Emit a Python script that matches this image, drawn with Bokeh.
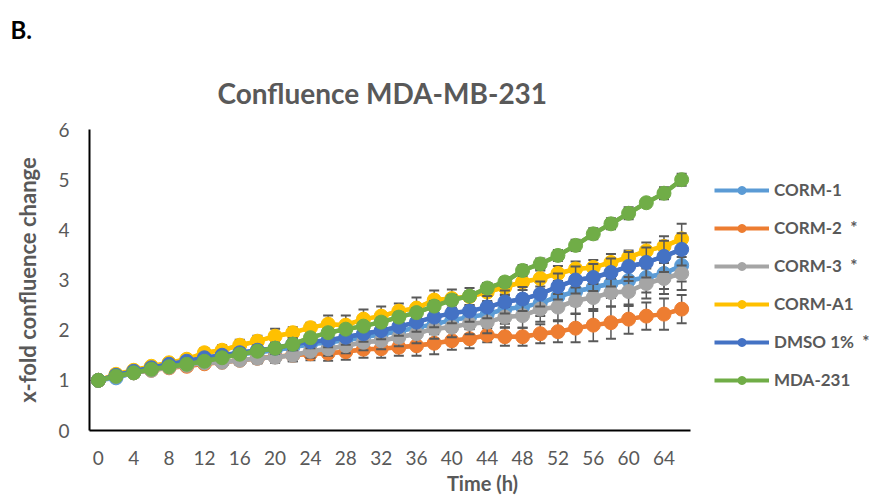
from bokeh.plotting import figure
from bokeh.models import (Range1d, FixedTicker, Title, Legend, LegendItem, ColumnDataSource)
from bokeh.embed import file_html
from bokeh.resources import INLINE

# ---------------- data ----------------
time_h = [0, 2, 4, 6, 8, 10, 12, 14, 16, 18, 20, 22, 24, 26, 28, 30, 32,
          34, 36, 38, 40, 42, 44, 46, 48, 50, 52, 54, 56, 58, 60, 62, 64, 66]
x_ticks = [0, 4, 8, 12, 16, 20, 24, 28, 32, 36, 40, 44, 48, 52, 56, 60, 64]
y_ticks = [0, 1, 2, 3, 4, 5, 6]

series_names = ["CORM-1", "CORM-2", "CORM-3", "CORM-A1", "DMSO 1%", "MDA-231"]
legend_labels = ["CORM-1", "CORM-2  *", "CORM-3  *", "CORM-A1", "DMSO 1%  *", "MDA-231"]
colors = ["#5B9BD5", "#ED7D31", "#A5A5A5", "#FFC000", "#4472C4", "#70AD47"]

corm1 = [1.00, 1.05, 1.15, 1.22, 1.30, 1.36, 1.42, 1.47, 1.52, 1.56, 1.60, 1.66, 1.72, 1.76,
         1.80, 1.86, 1.92, 1.98, 2.05, 2.12, 2.20, 2.26, 2.32, 2.42, 2.46, 2.54, 2.67, 2.77,
         2.85, 2.93, 2.99, 3.05, 3.13, 3.29]
corm2 = [1.00, 1.10, 1.15, 1.20, 1.25, 1.28, 1.33, 1.36, 1.40, 1.44, 1.47, 1.50, 1.53, 1.54,
         1.57, 1.62, 1.63, 1.66, 1.69, 1.74, 1.79, 1.83, 1.90, 1.87, 1.87, 1.93, 1.97, 2.04,
         2.10, 2.15, 2.22, 2.28, 2.32, 2.42]
corm3 = [1.00, 1.08, 1.15, 1.20, 1.26, 1.30, 1.35, 1.36, 1.40, 1.44, 1.46, 1.50, 1.58, 1.63,
         1.69, 1.76, 1.79, 1.86, 1.93, 2.03, 2.06, 2.13, 2.16, 2.26, 2.29, 2.42, 2.46, 2.59,
         2.65, 2.75, 2.77, 2.93, 3.03, 3.13]
corma1 = [1.00, 1.12, 1.20, 1.28, 1.35, 1.42, 1.55, 1.60, 1.70, 1.78, 1.88, 1.95, 2.05, 2.12,
          2.10, 2.22, 2.28, 2.38, 2.44, 2.60, 2.63, 2.67, 2.76, 2.86, 2.96, 3.03, 3.13, 3.22,
          3.25, 3.35, 3.45, 3.58, 3.67, 3.82]
dmso = [1.00, 1.10, 1.18, 1.25, 1.32, 1.38, 1.45, 1.50, 1.55, 1.60, 1.64, 1.72, 1.77, 1.80,
        1.86, 1.93, 1.99, 2.07, 2.16, 2.26, 2.34, 2.38, 2.46, 2.56, 2.62, 2.72, 2.87, 3.00,
        3.05, 3.15, 3.27, 3.35, 3.47, 3.61]
mda231 = [1.00, 1.08, 1.15, 1.22, 1.27, 1.32, 1.38, 1.45, 1.52, 1.58, 1.64, 1.72, 1.85, 1.95,
          2.02, 2.08, 2.16, 2.26, 2.35, 2.48, 2.60, 2.68, 2.84, 2.96, 3.19, 3.32, 3.49, 3.69,
          3.92, 4.12, 4.33, 4.54, 4.73, 5.00]

err_corm1 = [0.00, 0.02, 0.03, 0.04, 0.05, 0.06, 0.07, 0.08, 0.09, 0.10, 0.11, 0.12, 0.13, 0.14,
             0.15, 0.16, 0.17, 0.18, 0.19, 0.20, 0.22, 0.23, 0.24, 0.29, 0.25, 0.26, 0.27, 0.28,
             0.28, 0.29, 0.30, 0.30, 0.31, 0.32]
err_corm2 = [0.00, 0.02, 0.03, 0.04, 0.05, 0.06, 0.07, 0.08, 0.09, 0.10, 0.11, 0.12, 0.13, 0.15,
             0.16, 0.17, 0.18, 0.17, 0.20, 0.22, 0.18, 0.19, 0.14, 0.18, 0.18, 0.19, 0.21, 0.28,
             0.32, 0.32, 0.29, 0.27, 0.31, 0.28]
err_corm3 = [0.00, 0.02, 0.03, 0.04, 0.05, 0.06, 0.07, 0.08, 0.09, 0.10, 0.11, 0.12, 0.13, 0.14,
             0.15, 0.16, 0.17, 0.18, 0.19, 0.20, 0.20, 0.21, 0.22, 0.20, 0.24, 0.25, 0.26, 0.26,
             0.27, 0.28, 0.29, 0.30, 0.31, 0.33]
err_corma1 = [0.00, 0.02, 0.03, 0.05, 0.06, 0.08, 0.09, 0.10, 0.11, 0.11, 0.15, 0.11, 0.10, 0.17,
              0.19, 0.19, 0.19, 0.15, 0.21, 0.19, 0.18, 0.17, 0.18, 0.17, 0.16, 0.16, 0.15, 0.15,
              0.15, 0.17, 0.14, 0.17, 0.20, 0.30]
err_dmso = [0.00, 0.02, 0.03, 0.04, 0.05, 0.06, 0.07, 0.08, 0.09, 0.10, 0.11, 0.12, 0.13, 0.14,
            0.15, 0.16, 0.17, 0.18, 0.19, 0.20, 0.20, 0.21, 0.22, 0.23, 0.24, 0.25, 0.26, 0.27,
            0.27, 0.28, 0.29, 0.30, 0.31, 0.32]
err_mda231 = [0.00, 0.02, 0.02, 0.03, 0.03, 0.04, 0.04, 0.05, 0.05, 0.06, 0.06, 0.07, 0.07, 0.08,
              0.08, 0.08, 0.09, 0.09, 0.09, 0.10, 0.10, 0.10, 0.10, 0.10, 0.11, 0.11, 0.11, 0.11,
              0.11, 0.11, 0.12, 0.08, 0.12, 0.12]

values = [corm1, corm2, corm3, corma1, dmso, mda231]
errors = [err_corm1, err_corm2, err_corm3, err_corma1, err_dmso, err_mda231]

FONT = "Lato"
GREY = "#595959"

# category bins are 2 h wide: axis spans from half a bin before the first to half after the last
x_lo = time_h[0] - 1
x_hi = time_h[-1] + 1
frame_left, frame_right_axis, width = 89, 690, 875
x_right = x_lo + (x_hi - x_lo) * (width - frame_left) / (frame_right_axis - frame_left)

p = figure(width=width, height=497, output_backend="svg", toolbar_location=None,
           x_range=Range1d(x_lo, x_right), y_range=Range1d(0, 6),
           min_border_left=frame_left, min_border_right=0, min_border_top=129, min_border_bottom=67)
p.outline_line_color = None
p.xgrid.grid_line_color = None
p.ygrid.grid_line_color = None
p.background_fill_color = "white"
p.border_fill_color = "white"

# axes
p.xaxis.ticker = FixedTicker(ticks=x_ticks)
p.yaxis.ticker = FixedTicker(ticks=y_ticks)
p.xaxis.bounds = (x_lo, x_hi)
for ax in (p.xaxis, p.yaxis):
    ax.axis_line_color = "black"
    ax.axis_line_width = 2
    ax.major_tick_line_color = None
    ax.minor_tick_line_color = None
    ax.major_tick_out = 0
    ax.major_tick_in = 0
    ax.minor_tick_out = 0
    ax.major_label_text_font = FONT
    ax.major_label_text_font_size = "19px"
    ax.major_label_text_color = GREY
    ax.axis_label_text_font = FONT
    ax.axis_label_text_font_style = "bold"
    ax.axis_label_text_color = GREY
p.xaxis.axis_label = "Time (h)"
p.yaxis.axis_label = "x-fold confluence change"
p.xaxis.axis_label_text_font_size = "20px"
p.yaxis.axis_label_text_font_size = "22px"
p.xaxis.major_label_standoff = 20
p.xaxis.axis_label_standoff = 3
p.yaxis.major_label_standoff = 20
p.yaxis.axis_label_standoff = 14

# series
legend_items = []
for name, lab, col, vals, err in zip(series_names, legend_labels, colors, values, errors):
    lo = [v - e for v, e in zip(vals, err)]
    hi = [v + e for v, e in zip(vals, err)]
    src = ColumnDataSource(dict(t=time_h, v=vals, lo=lo, hi=hi))
    p.segment(x0="t", y0="lo", x1="t", y1="hi", source=src, line_color=GREY, line_width=1.5)
    p.scatter(x="t", y="hi", source=src, marker="dash", size=10, line_color=GREY, line_width=2)
    p.scatter(x="t", y="lo", source=src, marker="dash", size=10, line_color=GREY, line_width=2)
    # thinner copies (hidden under the main marks) that give the legend its smaller glyph
    lr = p.line(x="t", y="v", source=src, line_color=col, line_width=4)
    mr = p.scatter(x="t", y="v", source=src, marker="circle", size=10, fill_color=col, line_color=col)
    p.line(x="t", y="v", source=src, line_color=col, line_width=4.5)
    p.scatter(x="t", y="v", source=src, marker="circle", size=14, fill_color=col, line_color=col)
    legend_items.append(LegendItem(label=lab, renderers=[lr, mr]))

legend = Legend(items=legend_items, location=(625, 40), padding=8, spacing=17,
                glyph_width=55, glyph_height=20, label_height=20, label_standoff=5,
                label_text_font=FONT, label_text_font_style="bold",
                label_text_font_size="17px", label_text_color=GREY,
                border_line_color=None, background_fill_alpha=0)
p.add_layout(legend, "center")

# panel letter (outermost) and chart title (nearer the plot)
p.title.text = "B."
p.title.align = "left"
p.title.offset = -79
p.title.text_font = FONT
p.title.text_font_style = "bold"
p.title.text_font_size = "24px"
p.title.text_color = "black"
p.title.standoff = 20
p.add_layout(Title(text="Confluence MDA-MB-231", align="left", offset=128, text_font=FONT,
                   text_font_style="bold", text_font_size="28px", text_color=GREY,
                   standoff=40), "above")

open("out.html", "w").write(file_html(p, INLINE))
